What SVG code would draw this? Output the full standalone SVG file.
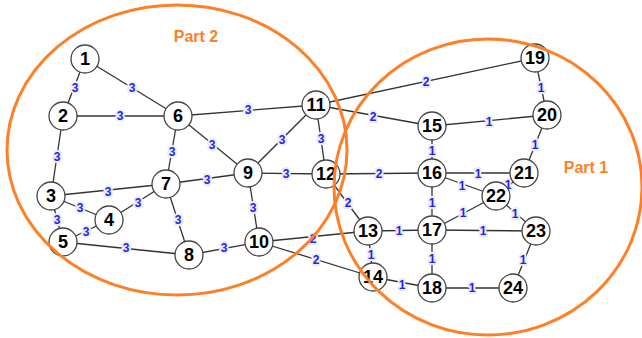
<svg xmlns="http://www.w3.org/2000/svg" width="642" height="338" viewBox="0 0 642 338">
<style>
.e line{stroke:#333;stroke-width:1.3}
.w{font-family:"Liberation Sans",Arial,sans-serif;font-size:12px;font-weight:bold;fill:#2222ee;text-anchor:middle;dominant-baseline:central;stroke:#ececf6;stroke-width:4;paint-order:stroke;stroke-linejoin:round}
.n circle{fill:#fff;stroke:#444;stroke-width:1.3}
.n text{font-family:"Liberation Sans",Arial,sans-serif;font-size:18px;font-weight:bold;fill:#000;text-anchor:middle;dominant-baseline:central}
.part{fill:none;stroke:#ff7f27;stroke-width:3}
.pl{font-family:"Liberation Sans",Arial,sans-serif;font-size:16px;font-weight:bold;fill:#ff7f27;text-anchor:middle;dominant-baseline:central}
</style>
<rect width="642" height="338" fill="#fff"/>
<g id="connectors" class="e">
<line x1="85" y1="59" x2="63" y2="116"/>
<line x1="85" y1="59" x2="178" y2="116"/>
<line x1="63" y1="116" x2="178" y2="116"/>
<line x1="63" y1="116" x2="51" y2="196"/>
<line x1="178" y1="116" x2="166" y2="184"/>
<line x1="178" y1="116" x2="248" y2="173"/>
<line x1="178" y1="116" x2="316" y2="105"/>
<line x1="248" y1="173" x2="316" y2="105"/>
<line x1="316" y1="105" x2="326" y2="174"/>
<line x1="316" y1="105" x2="535" y2="58"/>
<line x1="316" y1="105" x2="432" y2="126"/>
<line x1="51" y1="196" x2="166" y2="184"/>
<line x1="51" y1="196" x2="109" y2="220"/>
<line x1="51" y1="196" x2="63" y2="242"/>
<line x1="109" y1="220" x2="63" y2="242"/>
<line x1="109" y1="220" x2="166" y2="184"/>
<line x1="166" y1="184" x2="248" y2="173"/>
<line x1="166" y1="184" x2="189" y2="255"/>
<line x1="63" y1="242" x2="189" y2="255"/>
<line x1="189" y1="255" x2="259" y2="242"/>
<line x1="248" y1="173" x2="326" y2="174"/>
<line x1="248" y1="173" x2="259" y2="242"/>
<line x1="259" y1="242" x2="368" y2="231"/>
<line x1="259" y1="242" x2="373" y2="277"/>
<line x1="326" y1="174" x2="368" y2="231"/>
<line x1="326" y1="174" x2="432" y2="173"/>
<line x1="368" y1="231" x2="432" y2="230"/>
<line x1="368" y1="231" x2="373" y2="277"/>
<line x1="373" y1="277" x2="432" y2="288"/>
<line x1="432" y1="126" x2="547" y2="115"/>
<line x1="432" y1="126" x2="432" y2="173"/>
<line x1="535" y1="58" x2="547" y2="115"/>
<line x1="547" y1="115" x2="524" y2="173"/>
<line x1="432" y1="173" x2="524" y2="173"/>
<line x1="432" y1="173" x2="496" y2="196"/>
<line x1="524" y1="173" x2="496" y2="196"/>
<line x1="432" y1="173" x2="432" y2="230"/>
<line x1="432" y1="230" x2="496" y2="196"/>
<line x1="496" y1="196" x2="536" y2="231"/>
<line x1="432" y1="230" x2="536" y2="231"/>
<line x1="432" y1="230" x2="432" y2="288"/>
<line x1="536" y1="231" x2="513" y2="288"/>
<line x1="432" y1="288" x2="513" y2="288"/>
</g>
<g id="weights">
<text class="w" x="75" y="88">3</text>
<text class="w" x="132" y="88">3</text>
<text class="w" x="120" y="116">3</text>
<text class="w" x="57" y="157">3</text>
<text class="w" x="172" y="152">3</text>
<text class="w" x="212" y="145">3</text>
<text class="w" x="248" y="110">3</text>
<text class="w" x="282" y="140">3</text>
<text class="w" x="321" y="139">3</text>
<text class="w" x="426" y="82">2</text>
<text class="w" x="373" y="117">2</text>
<text class="w" x="108" y="192">3</text>
<text class="w" x="80" y="208">3</text>
<text class="w" x="57" y="220">3</text>
<text class="w" x="86" y="232">3</text>
<text class="w" x="138" y="203">3</text>
<text class="w" x="207" y="180">3</text>
<text class="w" x="178" y="220">3</text>
<text class="w" x="126" y="248">3</text>
<text class="w" x="224" y="248">3</text>
<text class="w" x="286" y="174">3</text>
<text class="w" x="253" y="208">3</text>
<text class="w" x="313" y="239">2</text>
<text class="w" x="316" y="260">2</text>
<text class="w" x="348" y="203">2</text>
<text class="w" x="379" y="174">2</text>
<text class="w" x="399" y="231">1</text>
<text class="w" x="371" y="255">1</text>
<text class="w" x="402" y="285">1</text>
<text class="w" x="489" y="122">1</text>
<text class="w" x="432" y="151">1</text>
<text class="w" x="541" y="88">1</text>
<text class="w" x="535" y="145">1</text>
<text class="w" x="478" y="174">1</text>
<text class="w" x="462" y="186">1</text>
<text class="w" x="508" y="185">1</text>
<text class="w" x="432" y="203">1</text>
<text class="w" x="463" y="213">1</text>
<text class="w" x="515" y="214">1</text>
<text class="w" x="483" y="231">1</text>
<text class="w" x="432" y="259">1</text>
<text class="w" x="523" y="260">1</text>
<text class="w" x="472" y="288">1</text>
</g>
<g id="n1" class="n"><circle cx="85" cy="59" r="14"/><text x="85" y="59">1</text></g>
<g id="n2" class="n"><circle cx="63" cy="116" r="14"/><text x="63" y="116">2</text></g>
<g id="n3" class="n"><circle cx="51" cy="196" r="14"/><text x="51" y="196">3</text></g>
<g id="n4" class="n"><circle cx="109" cy="220" r="14"/><text x="109" y="220">4</text></g>
<g id="n5" class="n"><circle cx="63" cy="242" r="14"/><text x="63" y="242">5</text></g>
<g id="n6" class="n"><circle cx="178" cy="116" r="14"/><text x="178" y="116">6</text></g>
<g id="n7" class="n"><circle cx="166" cy="184" r="14"/><text x="166" y="184">7</text></g>
<g id="n8" class="n"><circle cx="189" cy="255" r="14"/><text x="189" y="255">8</text></g>
<g id="n9" class="n"><circle cx="248" cy="173" r="14"/><text x="248" y="173">9</text></g>
<g id="n10" class="n"><circle cx="259" cy="242" r="14"/><text x="259" y="242">10</text></g>
<g id="n11" class="n"><circle cx="316" cy="105" r="14"/><text x="316" y="105">11</text></g>
<g id="n12" class="n"><circle cx="326" cy="174" r="14"/><text x="326" y="174">12</text></g>
<g id="n13" class="n"><circle cx="368" cy="231" r="14"/><text x="368" y="231">13</text></g>
<g id="n14" class="n"><circle cx="373" cy="277" r="14"/><text x="373" y="277">14</text></g>
<g id="n15" class="n"><circle cx="432" cy="126" r="14"/><text x="432" y="126">15</text></g>
<g id="n16" class="n"><circle cx="432" cy="173" r="14"/><text x="432" y="173">16</text></g>
<g id="n17" class="n"><circle cx="432" cy="230" r="14"/><text x="432" y="230">17</text></g>
<g id="n18" class="n"><circle cx="432" cy="288" r="14"/><text x="432" y="288">18</text></g>
<g id="n19" class="n"><circle cx="535" cy="58" r="14"/><text x="535" y="58">19</text></g>
<g id="n20" class="n"><circle cx="547" cy="115" r="14"/><text x="547" y="115">20</text></g>
<g id="n21" class="n"><circle cx="524" cy="173" r="14"/><text x="524" y="173">21</text></g>
<g id="n22" class="n"><circle cx="496" cy="196" r="14"/><text x="496" y="196">22</text></g>
<g id="n23" class="n"><circle cx="536" cy="231" r="14"/><text x="536" y="231">23</text></g>
<g id="n24" class="n"><circle cx="513" cy="288" r="14"/><text x="513" y="288">24</text></g>
<g id="parts">
<ellipse class="part" cx="177" cy="150" rx="170" ry="145"/>
<ellipse class="part" cx="488" cy="187" rx="154" ry="148"/>
<text class="pl" x="196" y="36">Part 2</text>
<text class="pl" x="586" y="167">Part 1</text>
</g>
</svg>
